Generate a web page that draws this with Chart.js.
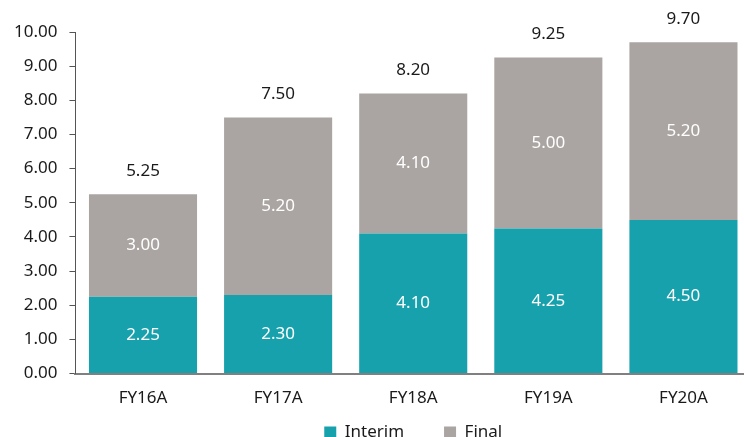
<!DOCTYPE html>
<html>
<head>
<meta charset="utf-8">
<script src="https://cdn.jsdelivr.net/npm/chart.js@4"></script>
<style>
    html, body { margin: 0; padding: 0; background: #fff; overflow: hidden; }
    #wrap { width: 751px; height: 437px; position: relative; }
</style>
</head>
<body>
<div id="wrap"><canvas id="chart"></canvas></div>
<script>
// Chart data
const categories = ['FY16A', 'FY17A', 'FY18A', 'FY19A', 'FY20A'];
const interimValues = [2.25, 2.30, 4.10, 4.25, 4.50];
const finalValues = [3.00, 5.20, 4.10, 5.00, 5.20];
const totalValues = [5.25, 7.50, 8.20, 9.25, 9.70];

const fontFamily = "'Noto Sans', 'Open Sans', sans-serif";
const textColor = '#1a1a1a';

// Draws the white values inside the bars and the totals above them
const labelPlugin = {
    id: 'barLabels',
    afterLayout(chart) {
        // legend padding gives the wide gap between items; pull the box up so
        // the items sit just above the bottom edge (bottom stays for the clip)
        if (chart.legend) {
            chart.legend.top = chart.height - 53;
        }
    },
    afterDatasetsDraw(chart) {
        const ctx = chart.ctx;
        ctx.save();
        ctx.font = '17px ' + fontFamily;
        ctx.textAlign = 'center';
        ctx.textBaseline = 'middle';
        chart.data.datasets.forEach((ds, di) => {
            const meta = chart.getDatasetMeta(di);
            meta.data.forEach((bar, i) => {
                ctx.fillStyle = '#ffffff';
                ctx.fillText(ds.data[i].toFixed(2), bar.x, (bar.y + bar.base) / 2);
            });
        });
        const top = chart.getDatasetMeta(1);
        top.data.forEach((bar, i) => {
            ctx.fillStyle = textColor;
            ctx.fillText(totalValues[i].toFixed(2), bar.x, bar.y - 23);
        });
        ctx.restore();
    }
};

new Chart(document.getElementById('chart'), {
    type: 'bar',
    data: {
        labels: categories,
        datasets: [
            {
                label: 'Interim',
                data: interimValues,
                backgroundColor: '#16a1ad',
                categoryPercentage: 0.8,
                barPercentage: 1
            },
            {
                label: 'Final',
                data: finalValues,
                backgroundColor: '#aaa5a2',
                categoryPercentage: 0.8,
                barPercentage: 1
            }
        ]
    },
    options: {
        responsive: true,
        maintainAspectRatio: false,
        animation: false,
        layout: { padding: { top: 32, right: 0, left: 2, bottom: 0 } },
        plugins: {
            legend: {
                position: 'bottom',
                fullSize: false,
                maxHeight: 15,
                labels: {
                    boxWidth: 12,
                    boxHeight: 12,
                    padding: 40,
                    color: textColor,
                    font: { family: fontFamily, size: 17 }
                }
            },
            tooltip: { enabled: false }
        },
        scales: {
            x: {
                stacked: true,
                grid: { display: false, drawTicks: false },
                border: { color: '#808080', width: 2 },
                ticks: { color: textColor, font: { family: fontFamily, size: 17 }, padding: 14 }
            },
            y: {
                stacked: true,
                min: 0,
                max: 10,
                grid: { drawOnChartArea: false, drawTicks: true, tickLength: 6, color: '#555' },
                border: { color: '#555', width: 1 },
                ticks: {
                    stepSize: 1,
                    color: textColor,
                    padding: 12,
                    font: { family: fontFamily, size: 17 },
                    callback: v => v.toFixed(2)
                }
            }
        }
    },
    plugins: [labelPlugin]
});
</script>
</body>
</html>
